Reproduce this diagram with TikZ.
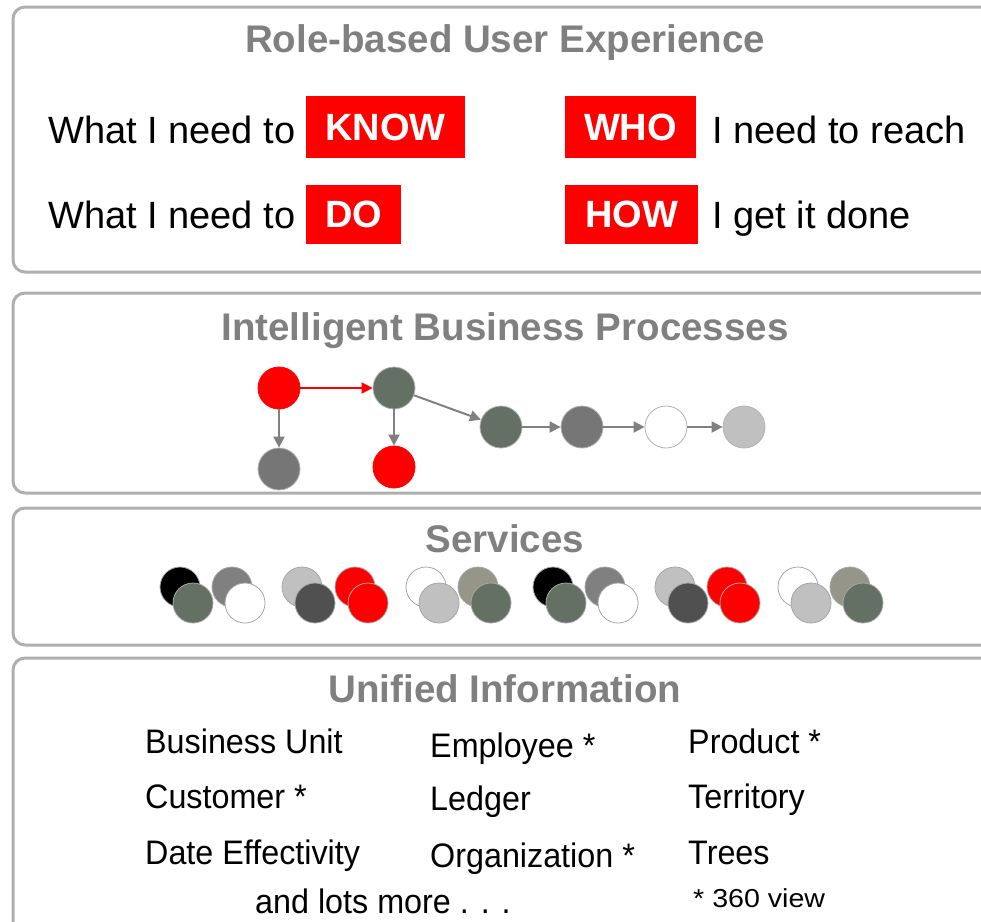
\documentclass[tikz,border=0pt]{standalone}
\usepackage{fontspec}
\setmainfont{Liberation Sans}
\newfontfamily\narrowfont[FakeStretch=0.95]{Liberation Sans}
\newfontfamily\wideinfofont[FakeStretch=1.1]{Liberation Sans}
\usetikzlibrary{arrows.meta}
\definecolor{sage}{RGB}{100,112,100}
\definecolor{midgray}{RGB}{118,118,118}
\definecolor{lgray}{RGB}{192,192,192}
\definecolor{dgray}{RGB}{80,80,80}
\definecolor{khaki}{RGB}{150,150,136}
\definecolor{framegray}{RGB}{175,175,175}
\definecolor{titlegray}{RGB}{128,128,128}
\begin{document}
\begin{tikzpicture}[x=1pt,y=-1pt,
    panel/.style={draw=framegray,line width=3pt,rounded corners=12pt},
    paneltitle/.style={anchor=base,text=titlegray,font=\fontsize{38.5}{40}\selectfont\bfseries},
    plain/.style={font=\fontsize{38}{42}\selectfont,inner sep=0pt},
    redtag/.style={fill=red,text=white,font=\fontsize{38}{42}\selectfont\bfseries,inner sep=0pt},
    info/.style={anchor=base west,inner sep=0pt,font=\narrowfont\fontsize{34}{38}\selectfont},
    proc/.style={circle,minimum size=42pt,inner sep=0pt,draw=gray!60,line width=0.8pt},
    svc/.style={circle,minimum size=40pt,inner sep=0pt,draw=gray!70,line width=0.8pt},
    flow/.style={-{Triangle[length=11pt,width=11pt]},draw=titlegray,line width=2pt}]
    \useasboundingbox (0,0) rectangle (981,921);
    % panels
    \draw [panel] (13,7) rectangle (1000,272);
    \draw [panel] (13,293) rectangle (1000,493);
    \draw [panel] (13,508) rectangle (1000,645);
    \draw [panel] (13,658) rectangle (1000,940);
    \node [paneltitle] (t1) at (505,52) {Role-based User Experience};
    \node [paneltitle] (t2) at (505,340) {Intelligent Business Processes};
    \node [paneltitle] (t3) at (505,552) {Services};
    \node [paneltitle] (t4) at (505,702) {Unified Information};

    % role-based user experience
    \node [plain,anchor=base west] (know1) at (48,143) {What I need to};
    \node [redtag,minimum width=159pt,minimum height=62pt] (know) at (385.5,127) {KNOW};
    \node [redtag,minimum width=131pt,minimum height=62pt] (who) at (630.5,127) {WHO};
    \node [plain,anchor=base west] (who1) at (712,143) {I need to reach};
    \node [plain,anchor=base west] (do1) at (48,228) {What I need to};
    \node [redtag,minimum width=95pt,minimum height=59pt] (do) at (353.5,214.5) {DO};
    \node [redtag,minimum width=133pt,minimum height=59pt] (how) at (631.5,214.5) {HOW};
    \node [plain,anchor=base west] (how1) at (712,228) {I get it done};

    % business processes
    \node [proc,fill=red,draw=red] (p1) at (279,388) {};
    \node [proc,fill=sage] (p2) at (394,388) {};
    \node [proc,fill=midgray] (p3) at (279,469) {};
    \node [proc,fill=red,draw=red] (p4) at (394,467) {};
    \node [proc,fill=sage] (p5) at (501,427) {};
    \node [proc,fill=midgray] (p6) at (582,427) {};
    \node [proc,fill=white] (p7) at (666,427) {};
    \node [proc,fill=lgray] (p8) at (744,427) {};
    \draw [flow,draw=red] (p1) -- (p2);
    \draw [flow] (p1) -- (p3);
    \draw [flow] (p2) -- (p4);
    \draw [flow] (p2) -- (p5);
    \draw [flow] (p5) -- (p6);
    \draw [flow] (p6) -- (p7);
    \draw [flow] (p7) -- (p8);

    % services
    \foreach \bc/\fc/\x [count=\i] in {black/sage/180,titlegray/white/232,lgray/dgray/302,
        red/red/355,white/lgray/426,khaki/sage/478,black/sage/553,titlegray/white/605,
        lgray/dgray/675,red/red/727,white/lgray/798,khaki/sage/850}
    {
        \node [svc,fill=\bc] (sb\i) at (\x,587) {};
        \node [svc,fill=\fc] (sf\i) at (\x+13,603) {};
    }

    % unified information
    \node [info] (bu) at (145,753) {Business Unit};
    \node [info] (emp) at (430,757) {Employee *};
    \node [info] (prod) at (688,753) {Product *};
    \node [info] (cust) at (145,808) {Customer *};
    \node [info] (led) at (430,810) {Ledger};
    \node [info] (terr) at (688,808) {Territory};
    \node [info] (date) at (145,864) {Date Effectivity};
    \node [info] (org) at (430,867) {Organization *};
    \node [info] (trees) at (688,864) {Trees};
    \node [info] (more) at (255,913) {and lots more . . .};
    \node [info,font=\wideinfofont\fontsize{26}{28}\selectfont] (view) at (693,907) {* 360 view};
\end{tikzpicture}
\end{document}
